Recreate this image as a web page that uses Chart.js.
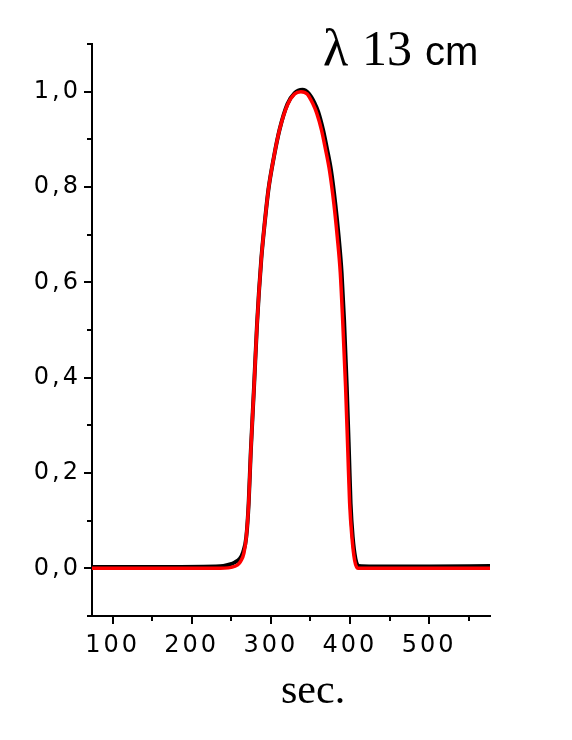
<!DOCTYPE html>
<html>
<head>
<meta charset="utf-8">
<script src="https://cdn.jsdelivr.net/npm/chart.js@4"></script>
<style>
html,body{margin:0;padding:0;background:#fff;}
#wrap{position:relative;width:572px;height:740px;}
canvas{display:block;}
</style>
</head>
<body>
<div id="wrap"><canvas id="c" width="572" height="740"></canvas></div>
<script>
// ---- data ----
const redSec = [74, 150, 230, 250, 258, 262, 266, 269, 272, 274.6, 278.8, 282.5, 285, 288, 292.3, 297, 304, 311, 321, 330, 338, 346, 353, 358, 364, 369, 374.3, 379.7, 384, 387.8, 390.8, 394.5, 397.4, 399.6, 402.5, 405.9, 410, 430, 500, 577];
const redVal = [0, 0, 0, 0.002, 0.007, 0.015, 0.032, 0.066, 0.137, 0.242, 0.381, 0.51, 0.58, 0.65, 0.725, 0.795, 0.864, 0.92, 0.972, 0.995, 1.0, 0.995, 0.975, 0.955, 0.92, 0.88, 0.833, 0.765, 0.695, 0.62, 0.521, 0.381, 0.242, 0.137, 0.066, 0.017, 0.0, 0, 0, 0];

const blackSec = [74, 150, 230, 240, 248, 255, 260.7, 265, 269, 272, 274.6, 278.8, 282.5, 285, 288, 292.3, 297, 304, 311, 321, 330, 340, 348, 355, 360, 366, 371, 376.3, 381.5, 385.8, 389.5, 392.6, 396, 398.8, 400.8, 403.5, 407, 411, 430, 500, 577];
const blackVal = [0.003, 0.003, 0.004, 0.005, 0.008, 0.013, 0.02, 0.034, 0.066, 0.137, 0.242, 0.381, 0.51, 0.58, 0.65, 0.725, 0.795, 0.864, 0.92, 0.974, 0.997, 1.004, 0.996, 0.977, 0.957, 0.92, 0.88, 0.833, 0.765, 0.695, 0.62, 0.521, 0.381, 0.242, 0.137, 0.066, 0.02, 0.005, 0.004, 0.004, 0.005];

const xTickValues = [100, 150, 200, 250, 300, 350, 400, 450, 500, 550];
const yTickValues = [-0.1, 0, 0.1, 0.2, 0.3, 0.4, 0.5, 0.6, 0.7, 0.8, 0.9, 1.0, 1.1];
const titleParts = ['λ', '13', 'cm'];
const xAxisTitle = 'sec.';

const toPts = (xs, ys) => xs.map((x, i) => ({x: x, y: ys[i]}));
const isMajorY = v => Math.round(v * 10) % 2 === 0;
const isMajorX = v => Math.round(v) % 100 === 0;
const LS = '3px';

const spacingPlugin = {
  id: 'spacing',
  beforeLayout(chart) { chart.ctx.letterSpacing = LS; },
  beforeDraw(chart) { chart.ctx.letterSpacing = LS; },
  afterDraw(chart) {
    const ctx = chart.ctx;
    const xs = chart.scales.x, ys = chart.scales.y;
    ctx.save();
    ctx.letterSpacing = '0px';
    ctx.strokeStyle = '#000';
    ctx.lineWidth = 2;
    ctx.beginPath();
    yTickValues.forEach(v => {
      const py = Math.round(ys.getPixelForValue(v));
      const len = isMajorY(v) ? 8 : 5;
      ctx.moveTo(ys.right - len, py);
      ctx.lineTo(ys.right, py);
    });
    xTickValues.forEach(v => {
      const px = Math.round(xs.getPixelForValue(v));
      const len = isMajorX(v) ? 8 : 5;
      ctx.moveTo(px, xs.top);
      ctx.lineTo(px, xs.top + len);
    });
    ctx.stroke();
    // title
    ctx.fillStyle = '#000';
    ctx.textBaseline = 'alphabetic';
    ctx.textAlign = 'left';
    ctx.font = '52px "Liberation Serif"';
    ctx.fillText(titleParts[0], 323, 65);
    ctx.font = '50px "Liberation Serif"';
    ctx.fillText(titleParts[1], 362, 65);
    ctx.font = '40px "Liberation Sans"';
    ctx.fillText(titleParts[2], 425, 65);
    // x axis title
    ctx.font = '42px "Liberation Serif"';
    ctx.fillText(xAxisTitle, 281, 703);
    ctx.restore();
  }
};

new Chart(document.getElementById('c'), {
  type: 'scatter',
  data: {
    datasets: [
      {data: toPts(blackSec, blackVal), showLine: true, borderColor: '#000', borderWidth: 4, pointRadius: 0, cubicInterpolationMode: 'monotone', fill: false, order: 2},
      {data: toPts(redSec, redVal), showLine: true, borderColor: '#ff0000', borderWidth: 3.5, pointRadius: 0, cubicInterpolationMode: 'monotone', fill: false, order: 1}
    ]
  },
  options: {
    responsive: false,
    animation: false,
    events: [],
    layout: {padding: {left: 0, right: 82, top: 44, bottom: 0}},
    plugins: {legend: {display: false}, tooltip: {enabled: false}, title: {display: false}},
    scales: {
      x: {
        type: 'linear', min: 74, max: 577,
        afterFit(s) { s.height = 124; },
        afterBuildTicks(s) { s.ticks = xTickValues.map(v => ({value: v})); },
        grid: {drawOnChartArea: false, drawTicks: false},
        border: {display: true, color: '#000', width: 2},
        ticks: {
          autoSkip: false, maxRotation: 0, padding: 15, color: '#000',
          font: {family: '"DejaVu Sans"', size: 24},
          callback: v => isMajorX(v) ? String(v) : ''
        }
      },
      y: {
        type: 'linear', min: -0.1, max: 1.1,
        afterFit(s) { s.width = 92; },
        afterBuildTicks(s) { s.ticks = yTickValues.map(v => ({value: v})); },
        grid: {drawOnChartArea: false, drawTicks: false},
        border: {display: true, color: '#000', width: 2},
        ticks: {
          autoSkip: false, padding: 11, color: '#000',
          font: {family: '"DejaVu Sans"', size: 24},
          callback: v => isMajorY(v) && v >= 0 && v <= 1.0001 ? v.toFixed(1).replace('.', ',') : ''
        }
      }
    }
  },
  plugins: [spacingPlugin]
});
</script>
</body>
</html>
